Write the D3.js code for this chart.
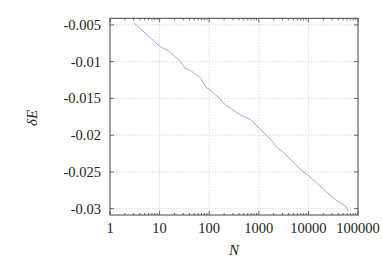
<!DOCTYPE html>
<html>
<head>
<meta charset="utf-8" />
<script src="https://cdn.jsdelivr.net/npm/d3@7"></script>
<style>
  body { margin: 0; background: #fff; }
  .grid line { stroke: #c4c4c4; stroke-width: 0.6; stroke-dasharray: 1.5,1.5; }
</style>
</head>
<body>
<script>
  // data
  var nValues = [3.0, 10.2, 15, 25.8, 32.5, 42.4, 68, 86, 109, 160, 201, 376, 697, 1023,
                 1762, 2404, 3033, 5198, 7096, 9680, 20930, 35980, 57280, 65000];
  var dE = [-0.00469, -0.00795, -0.00850, -0.00990, -0.01089, -0.01122, -0.01225, -0.01348,
            -0.01394, -0.01498, -0.01575, -0.01702, -0.01793, -0.01906, -0.02065, -0.02178,
            -0.02224, -0.02382, -0.02473, -0.02541, -0.02746, -0.02882, -0.02973, -0.03041];
  var xTicks = [1, 10, 100, 1000, 10000, 100000];
  var yTicks = [-0.005, -0.01, -0.015, -0.02, -0.025, -0.03];

  var width = 382, height = 263,
      margin = {top: 18.3, right: 24, bottom: 48, left: 110};
  var serif = "'Liberation Serif', 'Times New Roman', Times, serif";

  var x = d3.scaleLog().domain([1, 100000]).range([margin.left, width - margin.right]),
      y = d3.scaleLinear().domain([-0.0041, -0.03086]).range([margin.top, height - margin.bottom]);

  var svg = d3.select("body").append("svg")
      .attr("width", width)
      .attr("height", height)
      .attr("font-family", serif);

  // grid
  var grid = svg.append("g").attr("class", "grid");
  grid.selectAll(".gx").data(xTicks.slice(1, -1)).enter().append("line")
      .attr("x1", function(d) { return x(d); }).attr("x2", function(d) { return x(d); })
      .attr("y1", y.range()[0]).attr("y2", y.range()[1]);
  grid.selectAll(".gy").data(yTicks).enter().append("line")
      .attr("y1", function(d) { return y(d); }).attr("y2", function(d) { return y(d); })
      .attr("x1", x.range()[0]).attr("x2", x.range()[1]);

  // minor log ticks
  var minor = [];
  for (var e = 0; e < 5; e++) {
    for (var m = 2; m < 10; m++) minor.push(m * Math.pow(10, e));
  }

  var tickColor = "#444";
  var axisG = svg.append("g").attr("stroke", tickColor).attr("stroke-width", 0.8);
  // x ticks, bottom and top
  xTicks.forEach(function(d) {
    axisG.append("line").attr("x1", x(d)).attr("x2", x(d)).attr("y1", y.range()[1]).attr("y2", y.range()[1] - 4);
    axisG.append("line").attr("x1", x(d)).attr("x2", x(d)).attr("y1", y.range()[0]).attr("y2", y.range()[0] + 4);
  });
  minor.forEach(function(d) {
    axisG.append("line").attr("x1", x(d)).attr("x2", x(d)).attr("y1", y.range()[1]).attr("y2", y.range()[1] - 2);
    axisG.append("line").attr("x1", x(d)).attr("x2", x(d)).attr("y1", y.range()[0]).attr("y2", y.range()[0] + 2);
  });
  // y ticks, left and right
  yTicks.forEach(function(d) {
    axisG.append("line").attr("y1", y(d)).attr("y2", y(d)).attr("x1", x.range()[0]).attr("x2", x.range()[0] + 4);
    axisG.append("line").attr("y1", y(d)).attr("y2", y(d)).attr("x1", x.range()[1]).attr("x2", x.range()[1] - 4);
  });

  // border
  svg.append("rect")
      .attr("x", x.range()[0]).attr("y", y.range()[0])
      .attr("width", x.range()[1] - x.range()[0])
      .attr("height", y.range()[1] - y.range()[0])
      .attr("fill", "none").attr("stroke", tickColor).attr("stroke-width", 1);

  // tick labels
  svg.selectAll(".xl").data(xTicks).enter().append("text")
      .attr("x", function(d) { return x(d); })
      .attr("y", 233)
      .attr("text-anchor", "middle")
      .attr("font-size", 14.5)
      .attr("fill", "#222")
      .text(function(d) { return d; });

  svg.selectAll(".yl").data(yTicks).enter().append("text")
      .attr("x", 101)
      .attr("y", function(d) { return y(d); })
      .attr("dy", "0.34em")
      .attr("text-anchor", "end")
      .attr("font-size", 14.5)
      .attr("fill", "#222")
      .text(function(d) { return String(d).replace(/0+$/, ""); });

  // axis labels
  svg.append("text")
      .attr("x", 234).attr("y", 255)
      .attr("text-anchor", "middle")
      .attr("font-size", 15).attr("font-style", "italic")
      .attr("fill", "#222")
      .text("N");

  svg.append("text")
      .attr("transform", "translate(37,118)rotate(-90)")
      .attr("text-anchor", "middle")
      .attr("font-size", 15).attr("font-style", "italic")
      .attr("fill", "#222")
      .text("δE");

  // the curve
  var line = d3.line()
      .x(function(d) { return x(d[0]); })
      .y(function(d) { return y(d[1]); });

  svg.append("path")
      .datum(d3.zip(nValues, dE))
      .attr("fill", "none")
      .attr("stroke", "#8c8cff")
      .attr("stroke-width", 0.8)
      .attr("d", line);
</script>
</body>
</html>
